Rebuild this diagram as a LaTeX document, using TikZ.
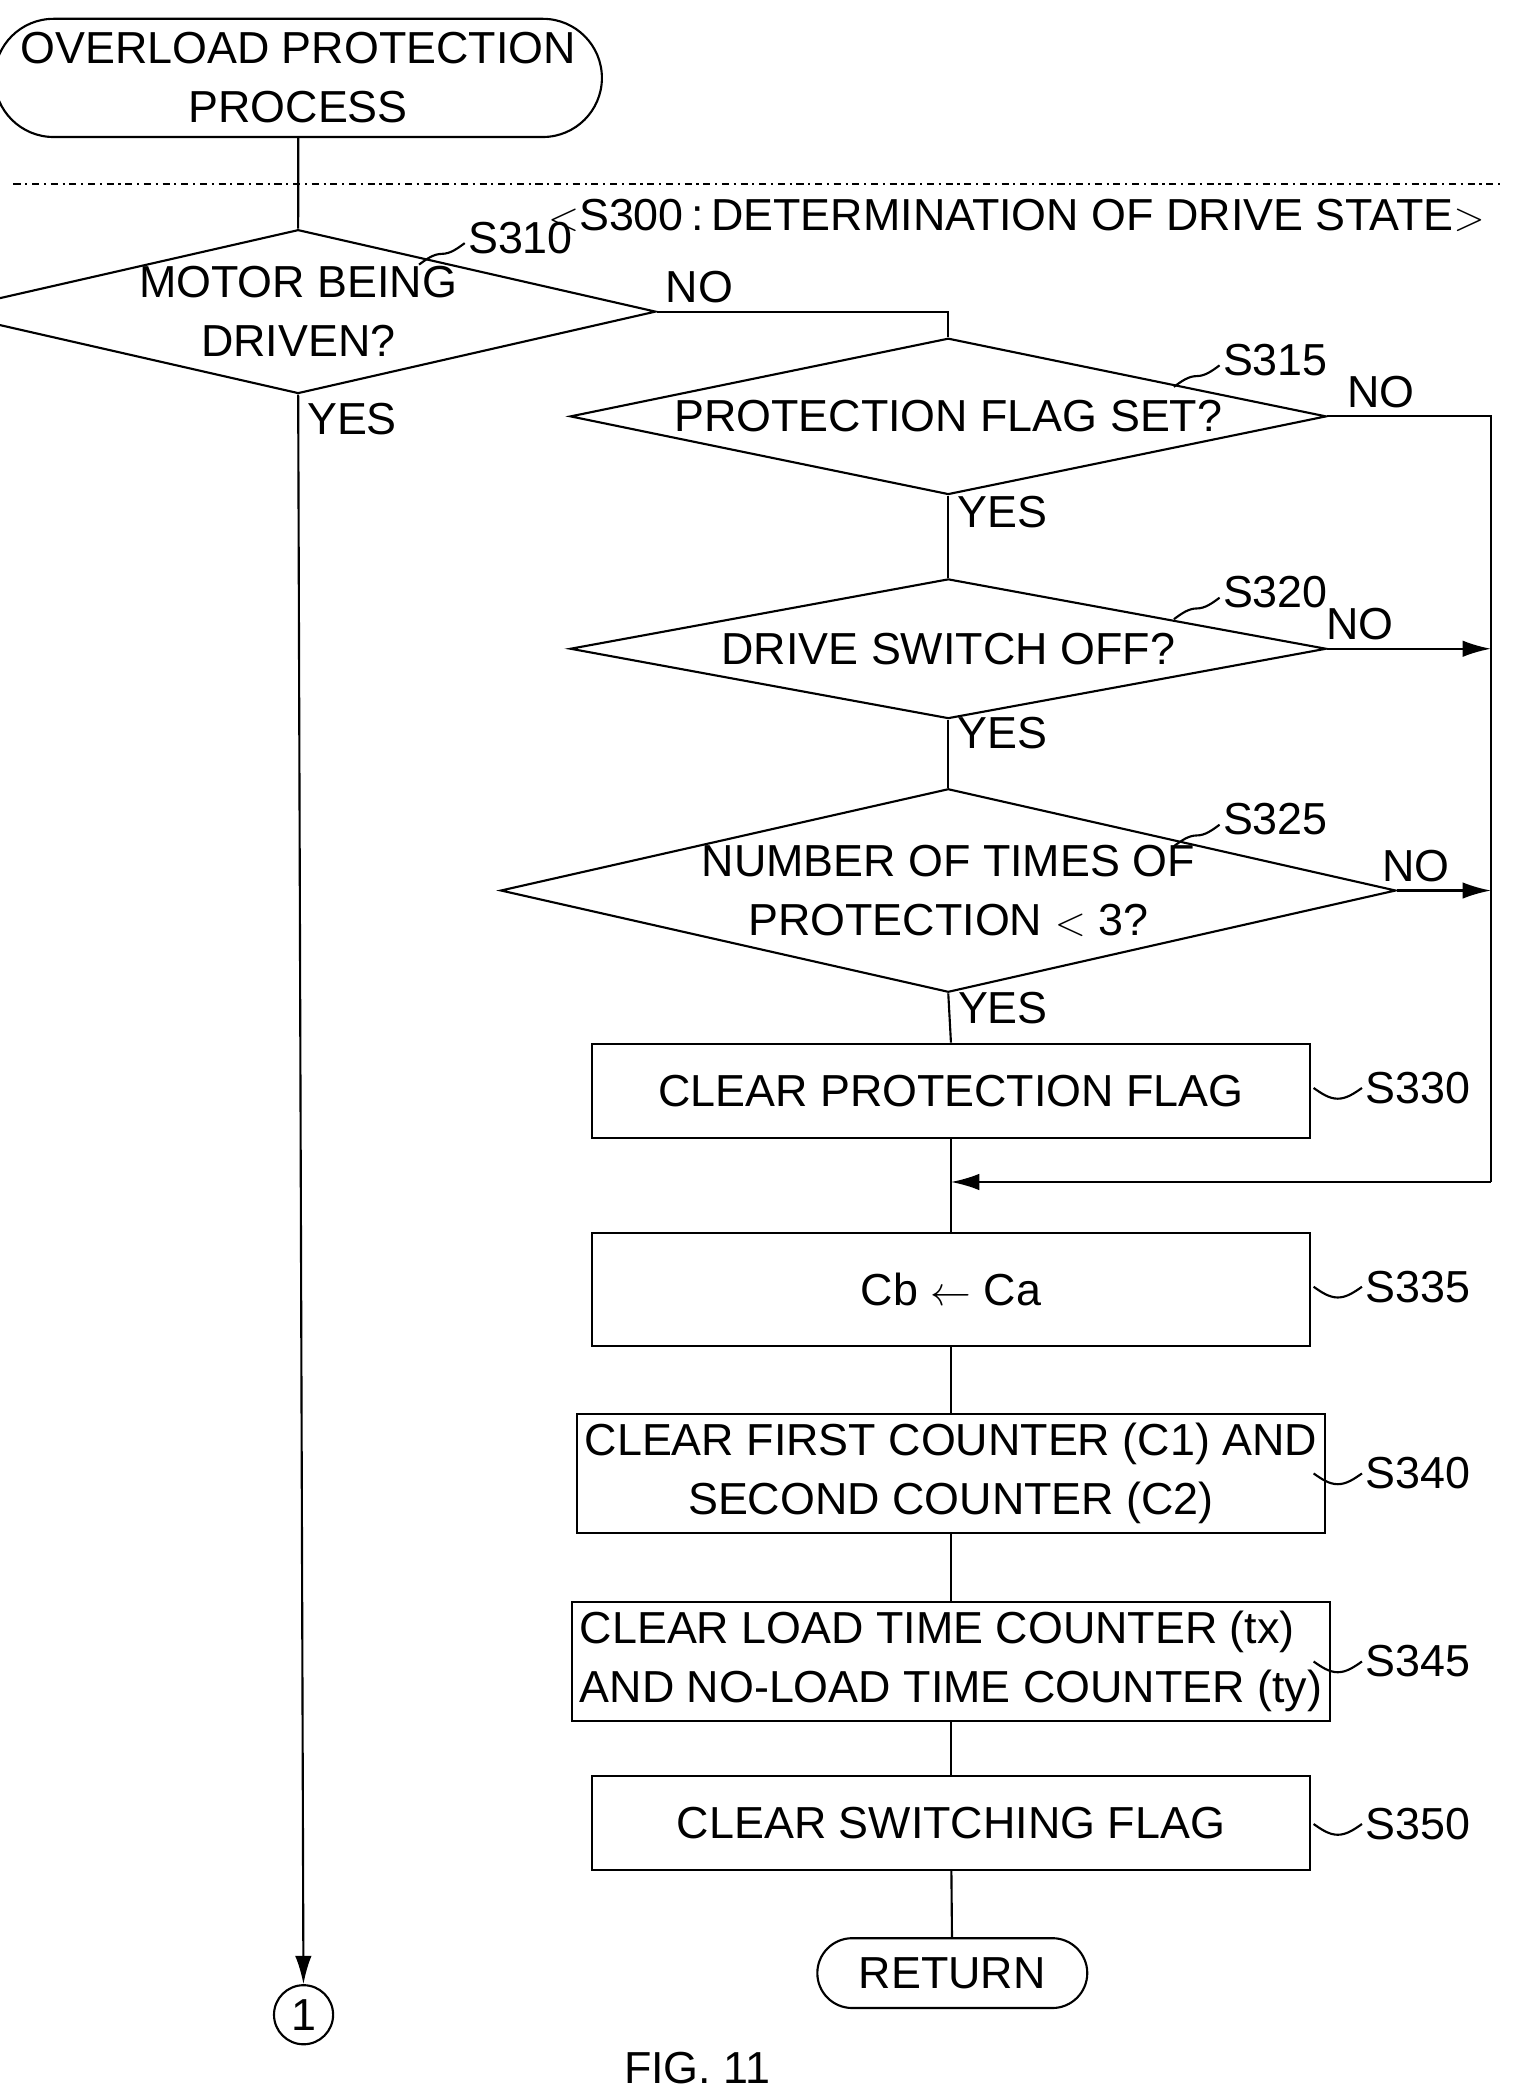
\documentclass[tikz,border=0pt]{standalone}
\usepackage{fontspec}
\setmainfont{Liberation Sans}
\usetikzlibrary{positioning,shapes.geometric,shapes.misc,arrows.meta}
\begin{document}
\begin{tikzpicture}[x=0.02cm,y=-0.02cm,
      font=\fontsize{19}{25}\selectfont,
      line width=0.9pt,
      term/.style = {rounded rectangle, draw, align=center, inner sep=2pt},
       box/.style = {rectangle, draw, align=center, minimum width=535*0.02cm},
      dec/.style  = {diamond, draw, align=center, aspect=4.4, inner sep=0pt},
      lbl/.style  = {anchor=west, inner sep=1pt},
       arr/.style = {-{Latex[length=12pt,width=7pt]}}
                    ]
\useasboundingbox (0,0) rectangle (1130,1562);
\node (start) [term, minimum width=412*0.02cm, minimum height=88*0.02cm] at (222,58) {OVERLOAD PROTECTION\\PROCESS};
\draw[dash dot] (10,137) -- (1120,137);
\node (title) [anchor=east] at (1112,160) {$<$S300\,:\,DETERMINATION OF DRIVE STATE$>$};
\node (s310) [dec, minimum width=412*0.02cm, minimum height=122*0.02cm] at (222,232) {MOTOR BEING\\DRIVEN?};
\node (s315) [dec, minimum width=563*0.02cm, minimum height=104*0.02cm] at (706,310) {PROTECTION FLAG SET?};
\node (s320) [dec, minimum width=563*0.02cm, minimum height=104*0.02cm] at (706,483) {DRIVE SWITCH OFF?};
\node (s325) [dec, minimum width=563*0.02cm, minimum height=148*0.02cm] at (706,663) {NUMBER OF TIMES OF\\PROTECTION $<$ 3?};
\node (s330) [box, minimum height=70*0.02cm] at (708,812) {CLEAR PROTECTION FLAG};
\node (s335) [box, minimum height=84*0.02cm] at (708,960) {Cb $\leftarrow$ Ca};
\node (s340) [box, minimum height=89*0.02cm] at (708,1097) {CLEAR FIRST COUNTER (C1) AND\\SECOND COUNTER (C2)};
\node (s345) [box, minimum height=89*0.02cm, align=left] at (708,1237) {CLEAR LOAD TIME COUNTER (tx)\\AND NO-LOAD TIME COUNTER (ty)};
\node (s350) [box, minimum height=70*0.02cm] at (708,1357) {CLEAR SWITCHING FLAG};
\node (ret) [term, minimum width=208*0.02cm, minimum height=52*0.02cm] at (709,1469) {RETURN};
\node (c1) [circle, draw, minimum size=44*0.02cm, inner sep=0pt] at (226,1500) {1};
\node (fig) at (519,1540) {FIG. 11};
% step labels
\node (l310) [lbl] at (346,177) {S310};
\node (l315) [lbl] at (908,268) {S315};
\node (l320) [lbl] at (908,441) {S320};
\node (l325) [lbl] at (908,610) {S325};
\node (l330) [lbl] at (1014,810) {S330};
\node (l335) [lbl] at (1014,958) {S335};
\node (l340) [lbl] at (1014,1097) {S340};
\node (l345) [lbl] at (1014,1237) {S345};
\node (l350) [lbl] at (1014,1358) {S350};
\foreach \s in {310,315,320,325}
  \draw (l\s.west) ++(0,4) coordinate (t\s) (t\s) sin ++(-17,8) cos ++(-17,8);
\foreach \s in {330,335,340,345,350}
  \draw (l\s.west) coordinate (t\s) (t\s) sin ++(-18,8) cos ++(-18,-8);
% joints
\coordinate (j1) at (706,232);
\coordinate (r1) at (1110,310);
\coordinate (r2) at (1110,483);
\coordinate (r3) at (1110,663);
\coordinate (r4) at (1110,880);
\coordinate (m1) at (708,880);
\draw (start) -- (s310);
\draw[arr] (s310.south) -- (c1) node[pos=0, anchor=north west] {YES};
\draw (s310.east) -- (j1) -- (s315.north);
\node[anchor=south west] at (s310.east) {NO};
\draw (s315.south) -- (s320.north) node[pos=0.2, anchor=west] {YES};
\draw (s320.south) -- (s325.north) node[pos=0.2, anchor=west] {YES};
\draw (s325.south) -- (s330.north) node[pos=0.3, anchor=west] {YES};
\draw (s315.east) -- (r1) -- (r4) node[pos=0, anchor=south east, xshift=-50*0.02cm] {NO};
\draw[arr] (s320.east) -- (r2) node[pos=0.2, anchor=south] {NO};
\draw[arr] (s325.east) -- (r3) node[pos=0.2, anchor=south] {NO};
\draw[arr] (r4) -- (m1);
\draw (s330) -- (s335);
\draw (s335) -- (s340);
\draw (s340) -- (s345);
\draw (s345) -- (s350);
\draw (s350) -- (ret);
\end{tikzpicture}
\end{document}
